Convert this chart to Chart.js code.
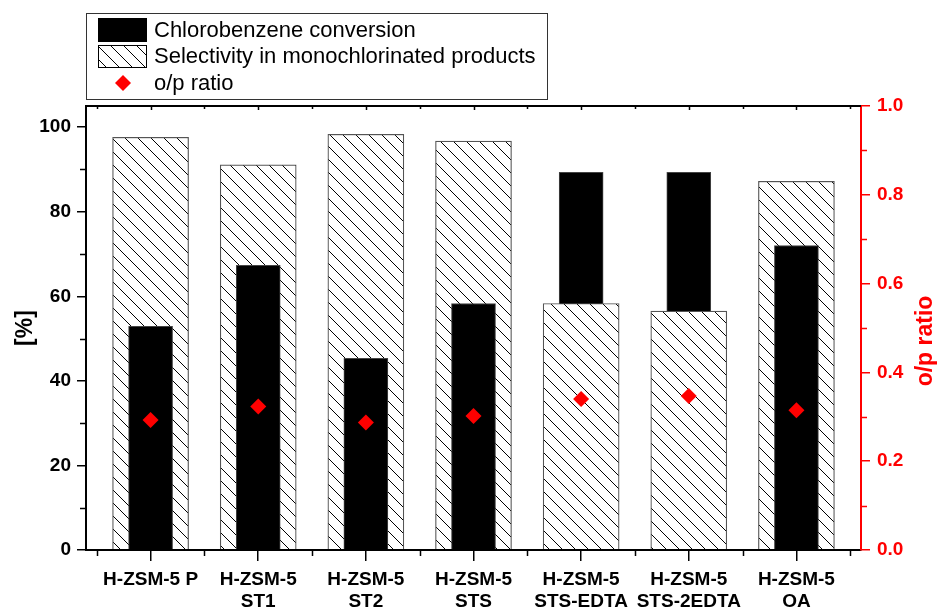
<!DOCTYPE html>
<html>
<head>
<meta charset="utf-8">
<script src="https://cdn.jsdelivr.net/npm/chart.js@4"></script>
<style>
  html, body { margin: 0; padding: 0; background: #fff; }
  #wrap { width: 937px; height: 609px; }
</style>
</head>
<body>
<div id="wrap"><canvas id="chart" width="937" height="609"></canvas></div>
<script>
// values
const categories = [
  ['H-ZSM-5 P'],
  ['H-ZSM-5', 'ST1'],
  ['H-ZSM-5', 'ST2'],
  ['H-ZSM-5', 'STS'],
  ['H-ZSM-5', 'STS-EDTA'],
  ['H-ZSM-5', 'STS-2EDTA'],
  ['H-ZSM-5', 'OA']
];
const conversion = [52.9, 67.3, 45.3, 58.3, 89.3, 89.3, 72.0];
const selectivity = [97.6, 91.1, 98.3, 96.7, 58.3, 56.5, 87.2];
const opRatio = [0.293, 0.323, 0.287, 0.302, 0.340, 0.347, 0.315];

const legendLabels = ['Chlorobenzene conversion', 'Selectivity in monochlorinated products', 'o/p ratio'];

const FONT = '"Liberation Sans", Arial, Helvetica, sans-serif';
const RED = '#ff0000';

const canvas = document.getElementById('chart');
const ctx = canvas.getContext('2d');

// diagonal hatch, white background, "\" lines
function makeHatch(size) {
  const tile = document.createElement('canvas');
  tile.width = size;
  tile.height = size;
  const g = tile.getContext('2d');
  g.fillStyle = '#fff';
  g.fillRect(0, 0, size, size);
  g.strokeStyle = '#000';
  g.lineWidth = 1;
  g.beginPath();
  g.moveTo(-2, -2);
  g.lineTo(size + 2, size + 2);
  g.stroke();
  return ctx.createPattern(tile, 'repeat');
}
const hatch = makeHatch(13);

// smaller bar is drawn in front of the taller one
const toPoints = (arr) => arr.map((v, i) => ({ x: i, y: v }));
const convFront = toPoints(conversion).filter(p => p.y <= selectivity[p.x]);
const convBack = toPoints(conversion).filter(p => p.y > selectivity[p.x]);

function diamond(c, x, y, r) {
  c.beginPath();
  c.moveTo(x, y - r);
  c.lineTo(x + r, y);
  c.lineTo(x, y + r);
  c.lineTo(x - r, y);
  c.closePath();
  c.fill();
}

// minor ticks, top frame, right title, boxed legend
const extras = {
  id: 'extras',
  afterDraw(chart) {
    const c = chart.ctx;
    const a = chart.chartArea;
    const { x, y, y1 } = chart.scales;
    c.save();

    // top frame with small inward ticks
    c.strokeStyle = '#000';
    c.lineWidth = 2;
    c.beginPath();
    c.moveTo(a.left, a.top);
    c.lineTo(a.right, a.top);
    c.stroke();

    c.lineWidth = 1.5;
    const halfSteps = (scale) => {
      const vals = scale.ticks.map(t => t.value);
      const step = vals[1] - vals[0];
      const out = [];
      vals.forEach((v, i) => {
        if (i === 0 && v - step / 2 >= scale.min) out.push(v - step / 2);
        if (v + step / 2 <= scale.max) out.push(v + step / 2);
      });
      return out;
    };

    // x minor ticks (bottom) and top ticks
    c.strokeStyle = '#000';
    c.beginPath();
    halfSteps(x).forEach(v => {
      const px = Math.round(x.getPixelForValue(v)) + 0.5;
      c.moveTo(px, a.bottom);
      c.lineTo(px, a.bottom + 6);
      c.moveTo(px, a.top);
      c.lineTo(px, a.top + 3);
    });
    x.ticks.forEach(t => {
      const px = Math.round(x.getPixelForValue(t.value)) + 0.5;
      c.moveTo(px, a.top);
      c.lineTo(px, a.top + 4);
    });
    c.stroke();

    // left minor ticks
    c.beginPath();
    halfSteps(y).forEach(v => {
      const py = Math.round(y.getPixelForValue(v)) + 0.5;
      c.moveTo(a.left, py);
      c.lineTo(a.left - 6, py);
    });
    c.stroke();

    // right minor ticks
    c.strokeStyle = RED;
    c.beginPath();
    halfSteps(y1).forEach(v => {
      const py = Math.round(y1.getPixelForValue(v)) + 0.5;
      c.moveTo(a.right, py);
      c.lineTo(a.right + 6, py);
    });
    c.stroke();

    // right axis title, reading upwards
    c.fillStyle = RED;
    c.font = 'bold 23px ' + FONT;
    c.textAlign = 'center';
    c.textBaseline = 'middle';
    c.translate(926, 341);
    c.rotate(-Math.PI / 2);
    c.fillText('o/p ratio', 0, 0);
    c.setTransform(1, 0, 0, 1, 0, 0);

    // legend box
    c.strokeStyle = '#333';
    c.lineWidth = 1;
    c.strokeRect(86.5, 13.5, 461, 86);

    c.fillStyle = '#000';
    c.fillRect(98, 18, 49, 24);

    c.fillStyle = hatch;
    c.fillRect(98, 45, 49, 23);
    c.strokeStyle = '#000';
    c.strokeRect(98.5, 45.5, 48, 22);

    c.fillStyle = RED;
    diamond(c, 123, 83, 8);

    c.fillStyle = '#000';
    c.font = '22px ' + FONT;
    c.textAlign = 'left';
    c.textBaseline = 'middle';
    c.fillText(legendLabels[0], 154, 31);
    c.fillText(legendLabels[1], 154, 57);
    c.fillText(legendLabels[2], 154, 84);

    c.restore();
  }
};

new Chart(ctx, {
  data: {
    datasets: [
      {
        type: 'line',
        label: legendLabels[2],
        data: toPoints(opRatio),
        yAxisID: 'y1',
        showLine: false,
        pointStyle: 'rectRot',
        pointRadius: 8,
        pointHoverRadius: 8,
        pointBackgroundColor: RED,
        pointBorderWidth: 0,
        order: 0
      },
      {
        type: 'bar',
        label: legendLabels[0],
        data: convFront,
        yAxisID: 'y',
        grouped: false,
        barThickness: 44,
        backgroundColor: '#000',
        borderColor: '#444',
        borderWidth: 1,
        order: 1
      },
      {
        type: 'bar',
        label: legendLabels[1],
        data: toPoints(selectivity),
        yAxisID: 'y',
        grouped: false,
        barThickness: 76,
        backgroundColor: hatch,
        borderColor: '#555',
        borderWidth: 1.2,
        order: 2
      },
      {
        type: 'bar',
        label: legendLabels[0],
        data: convBack,
        yAxisID: 'y',
        grouped: false,
        barThickness: 44,
        backgroundColor: '#000',
        borderColor: '#444',
        borderWidth: 1,
        order: 3
      }
    ]
  },
  options: {
    responsive: false,
    animation: false,
    layout: { padding: { top: 106, left: 0, right: 0, bottom: 0 } },
    plugins: {
      legend: { display: false },
      tooltip: { enabled: false }
    },
    scales: {
      x: {
        type: 'linear',
        min: -0.6,
        max: 6.6,
        offset: false,
        afterBuildTicks: (scale) => {
          scale.ticks = categories.map((c, i) => ({ value: i }));
        },
        afterFit: (scale) => { scale.height = 59; },
        border: { color: '#000', width: 2, z: 1 },
        grid: { offset: false, drawOnChartArea: false, color: '#000', lineWidth: 1.5, tickLength: 11 },
        ticks: {
          color: '#000',
          padding: 7,
          maxRotation: 0,
          autoSkip: false,
          font: { family: FONT, size: 19, weight: 'bold', lineHeight: 1.2 },
          callback: (v) => categories[v]
        }
      },
      y: {
        position: 'left',
        min: 0,
        max: 105,
        afterFit: (scale) => { scale.width = 86; },
        border: { color: '#000', width: 2, z: 1 },
        grid: { drawOnChartArea: false, color: '#000', lineWidth: 1.5, tickLength: 9 },
        ticks: {
          stepSize: 20,
          includeBounds: false,
          color: '#000',
          padding: 6,
          font: { family: FONT, size: 19, weight: 'bold' }
        },
        title: {
          display: true,
          text: '[%]',
          color: '#000',
          padding: { top: 12, bottom: 0 },
          font: { family: FONT, size: 23, weight: 'bold' }
        }
      },
      y1: {
        position: 'right',
        min: 0,
        max: 1,
        afterFit: (scale) => { scale.width = 76; },
        border: { color: RED, width: 2, z: 1 },
        grid: { drawOnChartArea: false, color: RED, lineWidth: 1.5, tickLength: 9 },
        ticks: {
          stepSize: 0.2,
          includeBounds: false,
          color: RED,
          padding: 7,
          font: { family: FONT, size: 19, weight: 'bold' },
          callback: (v) => v.toFixed(1)
        }
      }
    }
  },
  plugins: [extras]
});
</script>
</body>
</html>
